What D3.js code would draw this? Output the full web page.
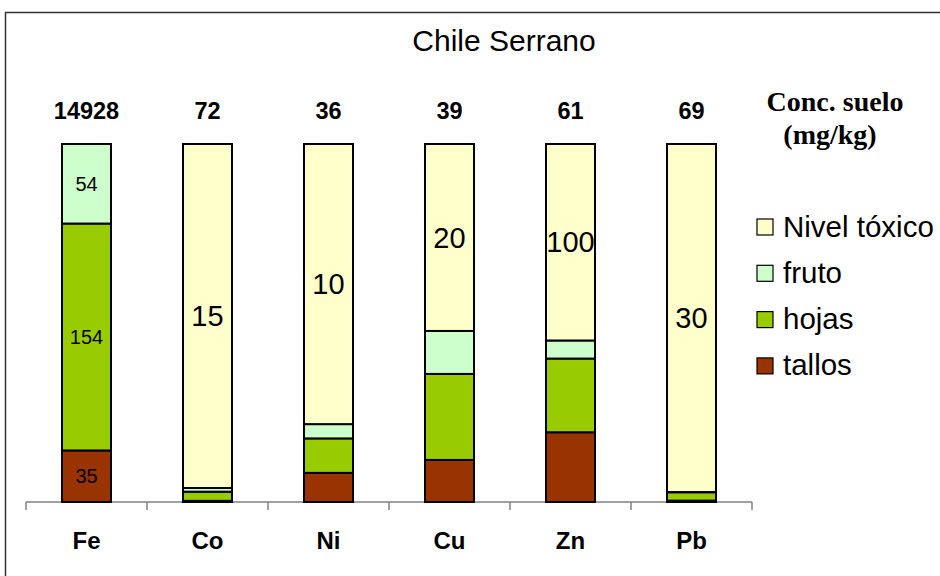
<!DOCTYPE html>
<html><head><meta charset="utf-8">
<script src="https://cdn.jsdelivr.net/npm/d3@7"></script>
<style>body{margin:0;background:#fff}svg{display:block}</style>
</head><body><svg id="c" width="940" height="576"></svg>
<script>
const categories = ["Fe","Co","Ni","Cu","Zn","Pb"];
const soilConc = ["14928","72","36","39","61","69"];
const tallos = [35, 0.05, 1.04, 4.5, 35.5, 0.12];
const hojas = [154, 0.4, 1.23, 9.2, 37.5, 0.72];
const fruto = [54, 0.16, 0.51, 4.6, 9.2, 0.02];
const toxico = [0, 15, 10, 20, 100, 30];
const tallosLabels = ["35","","","","",""];
const hojasLabels = ["154","","","","",""];
const frutoLabels = ["54","","","","",""];
const toxicoLabels = ["","15","10","20","100","30"];
const seriesNames = ["tallos","hojas","fruto","Nivel tóxico"];
const colors = ["#993300","#99CC00","#CCFFCC","#FFFFCC"];

const svg = d3.select("#c");
const font = "Liberation Sans, Arial, sans-serif";

// frame
svg.append("path").attr("d","M5.5,576 L5.5,12.5 L940,12.5").attr("fill","none").attr("stroke","#333").attr("stroke-width",1.5);

svg.append("text").attr("x",504).attr("y",51).attr("text-anchor","middle")
  .style("font-family",font).style("font-size","30px").text("Chile Serrano");

const keys = ["tallos","hojas","fruto","toxico"];
const labelsBy = {tallos:tallosLabels, hojas:hojasLabels, fruto:frutoLabels, toxico:toxicoLabels};
const rows = categories.map((c,i)=>({cat:c, tallos:tallos[i], hojas:hojas[i], fruto:fruto[i], toxico:toxico[i]}));
const stack = d3.stack().keys(keys).offset(d3.stackOffsetExpand)(rows);

const x = d3.scaleBand().domain(categories).range([26,752]).paddingInner(0.595).paddingOuter(0.2975);
const y = d3.scaleLinear().domain([0,1]).range([502,144]);

// axis
const axisG = svg.append("g").attr("transform","translate(0,502)");
axisG.append("line").attr("x1",x.range()[0]).attr("x2",x.range()[1]).attr("stroke","#808080").attr("stroke-width",1.5);
d3.range(categories.length+1).forEach(i=>{
  const tx = x.range()[0] + i*x.step();
  axisG.append("line").attr("x1",tx).attr("x2",tx).attr("y1",0).attr("y2",8).attr("stroke","#808080").attr("stroke-width",1.5);
});
axisG.selectAll("text.cat").data(categories).join("text").attr("class","cat")
  .attr("x",d=>x(d)+x.bandwidth()/2).attr("y",47).attr("text-anchor","middle")
  .style("font-family",font).style("font-weight","bold").style("font-size","24px").text(d=>d);

// bars
stack.forEach((s,si)=>{
  const g = svg.append("g");
  g.selectAll("rect").data(s).join("rect")
    .attr("x",d=>x(d.data.cat)).attr("width",x.bandwidth())
    .attr("y",d=>y(d[1])).attr("height",d=>y(d[0])-y(d[1]))
    .attr("fill",colors[si]).attr("stroke","#000").attr("stroke-width",2);
});
stack.forEach((s,si)=>{
  const labs = labelsBy[s.key];
  svg.append("g").selectAll("text").data(s).join("text")
    .attr("x",d=>x(d.data.cat)+x.bandwidth()/2)
    .attr("y",d=>(y(d[0])+y(d[1]))/2)
    .attr("dy","0.35em").attr("text-anchor","middle")
    .style("font-family",font).style("font-size", s.key==="toxico" ? "29px" : "20px")
    .text((d,i)=>labs[i]);
});

// top labels
svg.selectAll("text.top").data(categories).join("text").attr("class","top")
  .attr("x",d=>x(d)+x.bandwidth()/2).attr("y",119).attr("text-anchor","middle")
  .style("font-family",font).style("font-weight","bold").style("font-size","23.5px")
  .text((d,i)=>soilConc[i]);

// legend
const serif = "Liberation Serif, Times New Roman, serif";
svg.append("text").attr("x",835).attr("y",111).attr("text-anchor","middle")
  .style("font-family",serif).style("font-weight","bold").style("font-size","28px").text("Conc. suelo");
svg.append("text").attr("x",830).attr("y",144).attr("text-anchor","middle")
  .style("font-family",serif).style("font-weight","bold").style("font-size","28px").text("(mg/kg)");
const legOrder = [3,2,1,0];
const lg = svg.append("g").selectAll("g").data(legOrder).join("g")
  .attr("transform",(d,i)=>`translate(757,${219 + i*46.3})`);
lg.append("rect").attr("width",16).attr("height",16).attr("fill",d=>colors[d]).attr("stroke","#000").attr("stroke-width",1.2);
lg.append("text").attr("x",26).attr("y",17.5).style("font-family",font).style("font-size","29.5px").text(d=>seriesNames[d]);
</script></body></html>
